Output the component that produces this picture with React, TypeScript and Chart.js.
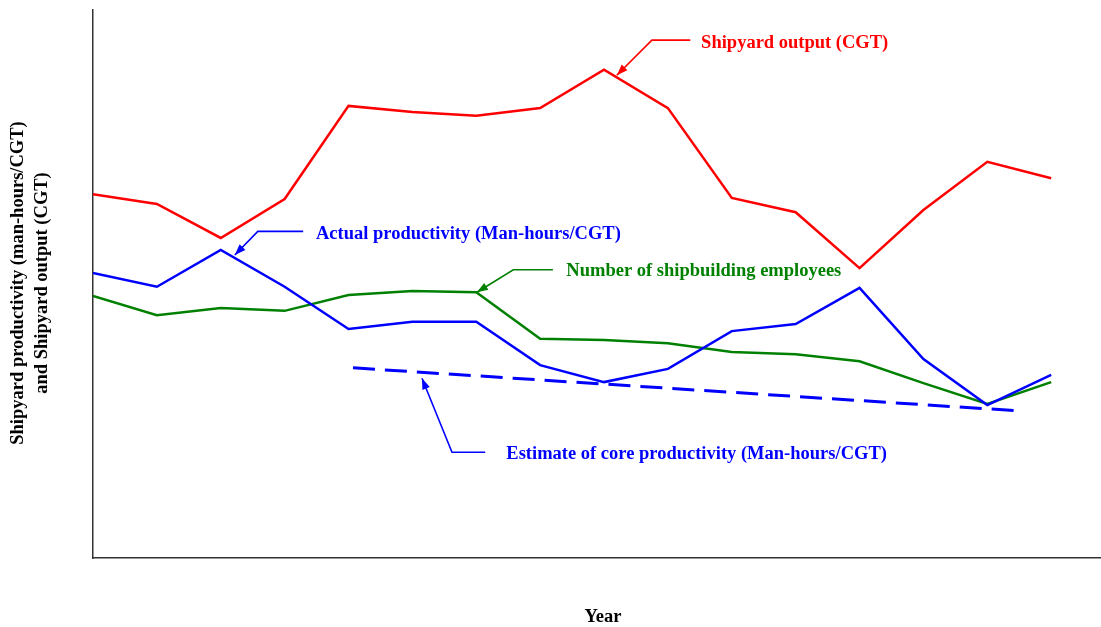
import React, { useEffect, useRef } from "react";
import { Chart, registerables } from "chart.js";

Chart.register(...registerables);

// x positions (year index, unlabeled in original)
const yearIndex = [0, 1, 2, 3, 4, 5, 6, 7, 8, 9, 10, 11, 12, 13, 14, 15];
const shipyardOutput = [66.4, 64.6, 58.4, 65.5, 82.5, 81.4, 80.7, 82.1, 89.1, 82.1, 65.7, 63.1, 52.9, 63.5, 72.3, 69.3];
const actualProductivity = [52.0, 49.5, 56.2, 49.5, 41.8, 43.1, 43.1, 35.2, 32.1, 34.5, 41.4, 42.7, 49.3, 36.3, 27.9, 33.4];
const employees = [47.8, 44.3, 45.6, 45.1, 48.0, 48.7, 48.5, 40.0, 39.8, 39.2, 37.6, 37.2, 35.9, 31.9, 28.1, 32.1];
const coreX = [4.07, 14.56];
const coreY = [34.7, 26.8];

const yTitleLines = ["Shipyard productivity (man-hours/CGT)", "and Shipyard output (CGT)"];
const xTitle = "Year";

// annotations: text position, elbow line, arrow tip (data coords)
const labels = [
  { text: "Shipyard output (CGT)", color: "#ff0000", tx: 9.52, ty: 94.0, hx0: 9.35, hx1: 8.75, hy: 94.5, ax: 8.2, ay: 88.1 },
  { text: "Actual productivity (Man-hours/CGT)", color: "#0000ff", tx: 3.49, ty: 59.0, hx0: 3.29, hx1: 2.58, hy: 59.6, ax: 2.22, ay: 55.3 },
  { text: "Number of shipbuilding employees", color: "#008000", tx: 7.41, ty: 52.4, hx0: 7.2, hx1: 6.58, hy: 52.6, ax: 6.01, ay: 48.5 },
  { text: "Estimate of core productivity (Man-hours/CGT)", color: "#0000ff", tx: 6.47, ty: 19.0, hx0: 6.14, hx1: 5.62, hy: 19.3, ax: 5.15, ay: 32.8 },
];

const FONT = '"Liberation Serif", "Times New Roman", serif';
const FSIZE = 18.5;

const annotPlugin = {
  id: "annot",
  afterDatasetsDraw(chart: any) {
    const { ctx, scales } = chart;
    const xs = scales.x;
    const ys = scales.y;
    ctx.save();
    labels.forEach((l) => {
      const hx0 = xs.getPixelForValue(l.hx0);
      const hx1 = xs.getPixelForValue(l.hx1);
      const hy = ys.getPixelForValue(l.hy);
      const ax = xs.getPixelForValue(l.ax);
      const ay = ys.getPixelForValue(l.ay);
      ctx.strokeStyle = l.color;
      ctx.fillStyle = l.color;
      ctx.lineWidth = 1.6;
      ctx.beginPath();
      ctx.moveTo(hx0, hy);
      ctx.lineTo(hx1, hy);
      ctx.lineTo(ax, ay);
      ctx.stroke();
      const ang = Math.atan2(ay - hy, ax - hx1);
      const len = 11;
      const w = 4;
      const bx = ax - len * Math.cos(ang);
      const by = ay - len * Math.sin(ang);
      ctx.beginPath();
      ctx.moveTo(ax, ay);
      ctx.lineTo(bx + w * Math.sin(ang), by - w * Math.cos(ang));
      ctx.lineTo(bx - w * Math.sin(ang), by + w * Math.cos(ang));
      ctx.closePath();
      ctx.fill();
      ctx.font = `bold ${FSIZE}px ${FONT}`;
      ctx.textAlign = "left";
      ctx.textBaseline = "middle";
      ctx.fillText(l.text, xs.getPixelForValue(l.tx), ys.getPixelForValue(l.ty));
    });
    // axis titles
    ctx.fillStyle = "#000";
    ctx.font = `bold ${FSIZE}px ${FONT}`;
    ctx.textAlign = "center";
    ctx.textBaseline = "middle";
    ctx.fillText(xTitle, 603, 617);
    ctx.translate(0, 283);
    ctx.rotate(-Math.PI / 2);
    ctx.fillText(yTitleLines[0], 0, 18);
    ctx.fillText(yTitleLines[1], 0, 42);
    ctx.restore();
  },
};

export default function App() {
  const ref = useRef<HTMLCanvasElement>(null);
  useEffect(() => {
    if (!ref.current) return;
    const chart = new Chart(ref.current, {
      type: "line",
      data: {
        datasets: [
          {
            label: "Shipyard output (CGT)",
            data: yearIndex.map((x, i) => ({ x, y: shipyardOutput[i] })),
            borderColor: "#ff0000",
            borderWidth: 2.5,
            pointRadius: 0,
            tension: 0,
          },
          {
            label: "Actual productivity (Man-hours/CGT)",
            data: yearIndex.map((x, i) => ({ x, y: actualProductivity[i] })),
            borderColor: "#0000ff",
            borderWidth: 2.5,
            pointRadius: 0,
            tension: 0,
          },
          {
            label: "Number of shipbuilding employees",
            data: yearIndex.map((x, i) => ({ x, y: employees[i] })),
            borderColor: "#008000",
            borderWidth: 2.5,
            pointRadius: 0,
            tension: 0,
          },
          {
            label: "Estimate of core productivity (Man-hours/CGT)",
            data: coreX.map((x, i) => ({ x, y: coreY[i] })),
            borderColor: "#0000ff",
            borderWidth: 3,
            borderDash: [22, 10],
            pointRadius: 0,
            tension: 0,
          },
        ],
      },
      options: {
        animation: false,
        responsive: true,
        maintainAspectRatio: false,
        layout: { padding: { left: 93, top: 10, right: 0, bottom: 69 } },
        plugins: { legend: { display: false }, tooltip: { enabled: false } },
        scales: {
          x: {
            type: "linear",
            min: 0,
            max: 15.78,
            ticks: { display: false },
            grid: { display: false, drawTicks: false },
            border: { display: true, color: "#333", width: 1.5 },
          },
          y: {
            type: "linear",
            min: 0,
            max: 100,
            ticks: { display: false },
            grid: { display: false, drawTicks: false },
            border: { display: true, color: "#333", width: 1.5 },
          },
        },
      },
      plugins: [annotPlugin],
    });
    return () => chart.destroy();
  }, []);
  return (
    <div style={{ position: "absolute", left: 0, top: 0, width: 1101, height: 627, background: "#fff" }}>
      <canvas ref={ref} />
    </div>
  );
}
